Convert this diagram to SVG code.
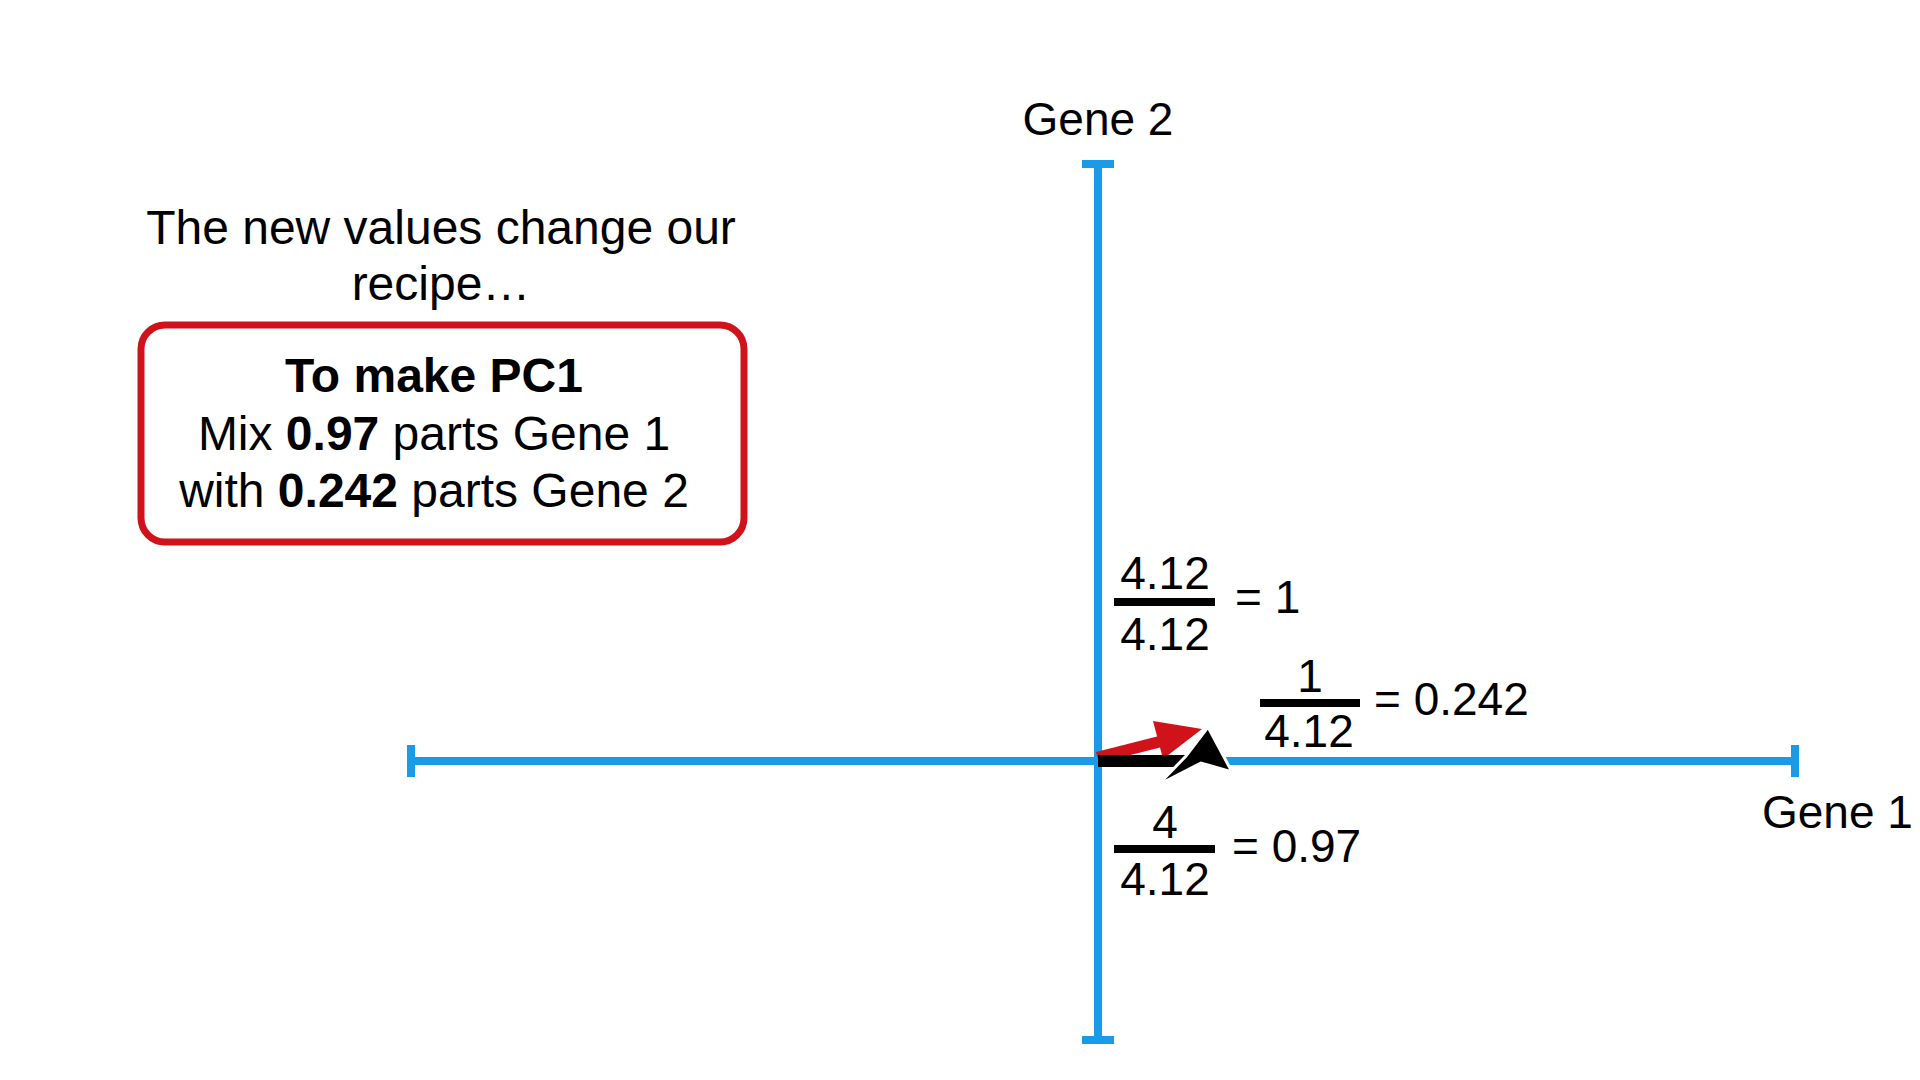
<svg xmlns="http://www.w3.org/2000/svg" width="1920" height="1080" viewBox="0 0 1920 1080">
<style>
text{font-family:"Liberation Sans",Arial,sans-serif;fill:#000}
.t48{font-size:48px}
.t46{font-size:46px}
.f46{font-size:46px}
.b{font-weight:bold}
.axis{stroke:#1a9be8;stroke-width:8;fill:none}
.bar{stroke:#000;stroke-width:8}
</style>
<rect width="1920" height="1080" fill="#fff"/>
<g id="intro">
<text class="t48" x="441" y="244" text-anchor="middle">The new values change our</text>
<text class="t48" x="441" y="300" text-anchor="middle">recipe…</text>
</g>
<g id="recipe-box">
<rect x="141" y="325" width="603" height="217" rx="24" fill="#fff" stroke="#d0121b" stroke-width="7"/>
<text class="t48 b" x="434" y="392" text-anchor="middle">To make PC1</text>
<text class="t48" x="434" y="450" text-anchor="middle">Mix <tspan class="b">0.97</tspan> parts Gene 1</text>
<text class="t48" x="434" y="507" text-anchor="middle">with <tspan class="b">0.242</tspan> parts Gene 2</text>
</g>
<g id="axes">
<line class="axis" x1="411" y1="761" x2="1795" y2="761"/>
<line class="axis" x1="411" y1="745" x2="411" y2="777"/>
<line class="axis" x1="1795" y1="745" x2="1795" y2="777"/>
<line class="axis" x1="1098" y1="163" x2="1098" y2="1041"/>
<line class="axis" x1="1082" y1="164" x2="1114" y2="164"/>
<line class="axis" x1="1082" y1="1040" x2="1114" y2="1040"/>
</g>
<g id="gene2-label"><text class="t46" x="1098" y="135" text-anchor="middle">Gene 2</text></g>
<g id="gene1-label"><text class="t46" x="1762" y="828">Gene 1</text></g>
<g id="vectors">
<polygon points="1096,752 1159,736 1162,747 1099,763" fill="#d0121b"/>
<polygon points="1202,729 1153,721 1163,759" fill="#d0121b"/>
<rect x="1098" y="755" width="92" height="12" fill="#000"/>
<polygon points="1208,727 1232,772 1201,763 1158,785 1186,756" fill="#000" stroke="#fff" stroke-width="3" stroke-linejoin="miter"/>
</g>
<g id="frac-gene2">
<text class="f46" x="1165" y="589" text-anchor="middle">4.12</text>
<line class="bar" x1="1114" y1="602" x2="1215" y2="602"/>
<text class="f46" x="1165" y="650" text-anchor="middle">4.12</text>
<text class="f46" x="1235" y="613">= 1</text>
</g>
<g id="frac-pc-gene2">
<text class="f46" x="1310" y="692" text-anchor="middle">1</text>
<line class="bar" x1="1260" y1="703" x2="1360" y2="703"/>
<text class="f46" x="1309" y="747" text-anchor="middle">4.12</text>
<text class="f46" x="1374" y="715">= 0.242</text>
</g>
<g id="frac-gene1">
<text class="f46" x="1165" y="838" text-anchor="middle">4</text>
<line class="bar" x1="1114" y1="849" x2="1215" y2="849"/>
<text class="f46" x="1165" y="895" text-anchor="middle">4.12</text>
<text class="f46" x="1232" y="862">= 0.97</text>
</g>
</svg>
